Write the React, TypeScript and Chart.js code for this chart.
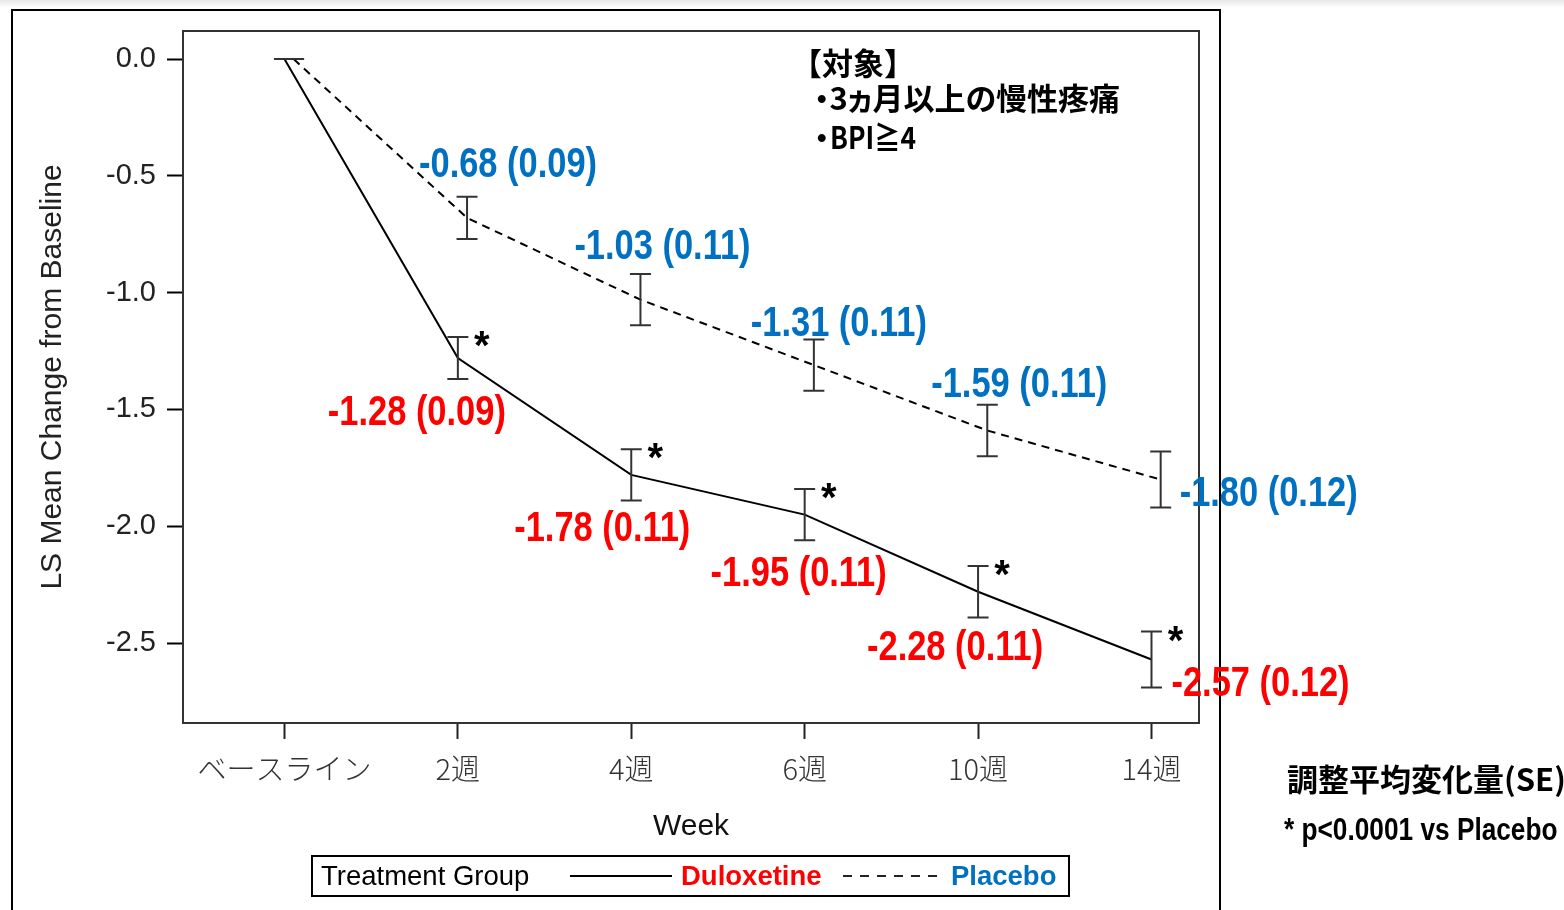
import React, { useEffect, useRef } from "react";
import { Chart, registerables } from "chart.js";

Chart.register(...registerables);

// ---------- data ----------
const weekLabels = ["ベースライン", "2週", "4週", "6週", "10週", "14週"];
const duloxetineMean = [0, -1.28, -1.78, -1.95, -2.28, -2.57];
const duloxetineSE = [0, 0.09, 0.11, 0.11, 0.11, 0.12];
const placeboMean = [0, -0.68, -1.03, -1.31, -1.59, -1.8];
const placeboSE = [0, 0.09, 0.11, 0.11, 0.11, 0.12];
const significant = [false, true, true, true, true, true];
const yTickValues = [0, -0.5, -1.0, -1.5, -2.0, -2.5];

// ---------- layout / style ----------
const W = 1564;
const H = 910;
const PLACEBO_SHIFT = 0.053; // small horizontal offset of placebo marks (category units)
const RED = "#ff0000";
const BLUE = "#0070c0";
const CONDENSE = 0.82;
const SANS = '"Liberation Sans", Arial, sans-serif';
const CJK = '"Noto Sans CJK JP", "Noto Sans CJK SC", sans-serif';
const CJK_LIGHT = '"Noto Sans CJK JP Light", "Noto Sans CJK JP", sans-serif';
// label centre offsets (px) relative to each mean point
const placeboLabelOffsets: ([number, number] | null)[] = [null, [41, -52], [22, -52], [25, -41], [32, -45], [108, 15]];
const duloxetineLabelOffsets: ([number, number] | null)[] = [null, [-41, 55], [-29, 55], [-6, 60], [-23, 57], [109, 25]];

const fmt = (m: number, se: number) => `${m.toFixed(2)} (${se.toFixed(2)})`;

function fillCondensed(ctx: CanvasRenderingContext2D, text: string, x: number, y: number) {
  ctx.save();
  ctx.translate(x, y);
  ctx.scale(CONDENSE, 1);
  ctx.fillText(text, 0, 0);
  ctx.restore();
}

const overlayPlugin = {
  id: "overlay",
  beforeDraw(chart: any) {
    const ctx: CanvasRenderingContext2D = chart.ctx;
    ctx.save();
    const g = ctx.createLinearGradient(0, 0, 0, 8);
    g.addColorStop(0, "rgba(0,0,0,0.09)");
    g.addColorStop(1, "rgba(0,0,0,0)");
    ctx.fillStyle = g;
    ctx.fillRect(0, 0, W, 8);
    // outer frame
    ctx.strokeStyle = "#000";
    ctx.lineWidth = 2;
    ctx.beginPath();
    ctx.moveTo(12, H + 10);
    ctx.lineTo(12, 10);
    ctx.lineTo(1220, 10);
    ctx.lineTo(1220, H + 10);
    ctx.stroke();
    ctx.restore();
  },
  afterDatasetsDraw(chart: any) {
    const ctx: CanvasRenderingContext2D = chart.ctx;
    const xs = chart.scales.x;
    const ys = chart.scales.y;
    const area = chart.chartArea;
    ctx.save();
    // plot frame (top/right)
    ctx.strokeStyle = "#333";
    ctx.lineWidth = 2;
    ctx.strokeRect(area.left, area.top, area.right - area.left, area.bottom - area.top);

    const bars = (means: number[], ses: number[], shift: number) => {
      ctx.strokeStyle = "#333";
      ctx.lineWidth = 2;
      ctx.setLineDash([]);
      ctx.beginPath();
      means.forEach((m, i) => {
        const px = xs.getPixelForValue(i + shift);
        const t = ys.getPixelForValue(m + ses[i]);
        const b = ys.getPixelForValue(m - ses[i]);
        ctx.moveTo(px, t);
        ctx.lineTo(px, b);
        ctx.moveTo(px - 10.5, t);
        ctx.lineTo(px + 10.5, t);
        ctx.moveTo(px - 10.5, b);
        ctx.lineTo(px + 10.5, b);
      });
      ctx.stroke();
    };
    bars(duloxetineMean, duloxetineSE, 0);
    bars(placeboMean, placeboSE, PLACEBO_SHIFT);

    // stars
    ctx.fillStyle = "#000";
    ctx.font = `bold 40px ${SANS}`;
    ctx.textAlign = "center";
    ctx.textBaseline = "alphabetic";
    duloxetineMean.forEach((m, i) => {
      if (!significant[i]) return;
      const px = xs.getPixelForValue(i);
      const t = ys.getPixelForValue(m + duloxetineSE[i]);
      ctx.fillText("*", px + 24, t - 1 + 0.58 * 40);
    });

    // value labels
    ctx.font = `bold 42px ${SANS}`;
    ctx.textBaseline = "middle";
    ctx.textAlign = "center";
    const labels = (means: number[], ses: number[], shift: number, offs: any[], color: string) => {
      ctx.fillStyle = color;
      means.forEach((m, i) => {
        const o = offs[i];
        if (!o) return;
        const px = xs.getPixelForValue(i + shift);
        const py = ys.getPixelForValue(m);
        fillCondensed(ctx, fmt(m, ses[i]), px + o[0], py + o[1]);
      });
    };
    labels(placeboMean, placeboSE, PLACEBO_SHIFT, placeboLabelOffsets, BLUE);
    labels(duloxetineMean, duloxetineSE, 0, duloxetineLabelOffsets, RED);
    ctx.restore();
  },
  afterDraw(chart: any) {
    const ctx: CanvasRenderingContext2D = chart.ctx;
    ctx.save();
    // legend box
    ctx.strokeStyle = "#000";
    ctx.lineWidth = 2;
    ctx.strokeRect(312, 856, 757, 40);
    ctx.textBaseline = "middle";
    ctx.textAlign = "left";
    ctx.fillStyle = "#000";
    ctx.font = `27.5px ${SANS}`;
    ctx.fillText("Treatment Group", 321, 877);
    ctx.beginPath();
    ctx.moveTo(570, 876);
    ctx.lineTo(672, 876);
    ctx.stroke();
    ctx.font = `bold 27.5px ${SANS}`;
    ctx.fillStyle = RED;
    ctx.fillText("Duloxetine", 681, 877);
    ctx.setLineDash([9, 8]);
    ctx.strokeStyle = "#222";
    ctx.beginPath();
    ctx.moveTo(843, 876);
    ctx.lineTo(938, 876);
    ctx.stroke();
    ctx.setLineDash([]);
    ctx.fillStyle = BLUE;
    ctx.fillText("Placebo", 951, 877);
    ctx.restore();
  },
};

export default function App() {
  const ref = useRef<HTMLCanvasElement | null>(null);

  useEffect(() => {
    if (!ref.current) return;
    const chart = new Chart(ref.current, {
      type: "line",
      data: {
        datasets: [
          {
            label: "Duloxetine",
            data: duloxetineMean.map((v, i) => ({ x: i, y: v })),
            borderColor: "#000",
            borderWidth: 2,
            pointRadius: 0,
            fill: false,
            tension: 0,
          },
          {
            label: "Placebo",
            data: placeboMean.map((v, i) => ({ x: i + PLACEBO_SHIFT, y: v })),
            borderColor: "#000",
            borderWidth: 2,
            borderDash: [8, 6],
            pointRadius: 0,
            fill: false,
            tension: 0,
          },
        ],
      },
      options: {
        animation: false,
        responsive: false,
        devicePixelRatio: 1,
        layout: { padding: { left: 0, top: 31, right: W - 1199, bottom: 65 } },
        plugins: { legend: { display: false }, tooltip: { enabled: false }, title: { display: false } },
        scales: {
          x: {
            type: "linear",
            position: "bottom",
            min: -0.585,
            max: 5.274,
            afterFit: (s: any) => {
              s.height = H - 65 - 723;
            },
            afterBuildTicks: (s: any) => {
              s.ticks = weekLabels.map((_, i) => ({ value: i }));
            },
            ticks: {
              autoSkip: false,
              maxRotation: 0,
              padding: 13,
              color: "#333",
              font: { family: CJK_LIGHT, size: 29, weight: "300" as any },
              callback: (v: any) => weekLabels[Math.round(Number(v))] ?? "",
            },
            grid: { display: true, drawOnChartArea: false, drawTicks: true, tickLength: 16, tickWidth: 2, tickColor: "#222" },
            border: { display: true, color: "#000", width: 2 },
            title: {
              display: true,
              text: "Week",
              color: "#111",
              font: { family: SANS, size: 30 },
              padding: { top: 0, bottom: 0 },
            },
          },
          y: {
            type: "linear",
            min: -2.842,
            max: 0.12,
            afterFit: (s: any) => {
              s.width = 183;
            },
            afterBuildTicks: (s: any) => {
              s.ticks = yTickValues.map((v) => ({ value: v }));
            },
            ticks: {
              padding: 11,
              color: "#222",
              font: { family: SANS, size: 29 },
              callback: (v: any) => Number(v).toFixed(1),
            },
            grid: { display: true, drawOnChartArea: false, drawTicks: true, tickLength: 16, tickWidth: 2, tickColor: "#000" },
            border: { display: true, color: "#000", width: 2 },
            title: {
              display: true,
              text: "LS Mean Change from Baseline",
              color: "#222",
              font: { family: SANS, size: 30 },
              padding: { top: 35, bottom: 0 },
            },
          },
        },
      },
      plugins: [overlayPlugin],
    });
    return () => chart.destroy();
  }, []);

  const cjkBold = (size: number, palt: boolean): React.CSSProperties => ({
    position: "absolute",
    fontFamily: CJK,
    fontWeight: 700,
    fontSize: size,
    lineHeight: "40px",
    height: 40,
    whiteSpace: "nowrap",
    color: "#000",
    fontFeatureSettings: palt ? '"palt"' : "normal",
  });

  return (
    <div style={{ position: "absolute", left: 0, top: 0, width: W, height: H, overflow: "hidden", background: "#fff" }}>
      <canvas ref={ref} width={W} height={H} style={{ display: "block", width: W, height: H }} />
      <div style={{ ...cjkBold(31, false), left: 791, top: 63.5 - 22 }}>【対象】</div>
      <div style={{ ...cjkBold(31, true), left: 814, top: 99 - 22 }}>・3ヵ月以上の慢性疼痛</div>
      <div style={{ ...cjkBold(31, true), left: 814, top: 137.5 - 22 }}>
        ・<span style={{ display: "inline-block", transform: "scaleX(0.85)", transformOrigin: "left center" }}>BPI≧4</span>
      </div>
      <div style={{ ...cjkBold(31, false), left: 1287, top: 780 - 22 }}>調整平均変化量(SE)</div>
      <div
        style={{
          position: "absolute",
          left: 1284,
          top: 829 - 20,
          fontFamily: SANS,
          fontWeight: 700,
          fontSize: 32,
          lineHeight: "40px",
          height: 40,
          whiteSpace: "nowrap",
          color: "#000",
          transform: `scaleX(${CONDENSE})`,
          transformOrigin: "left center",
        }}
      >
        * p&lt;0.0001 vs Placebo
      </div>
    </div>
  );
}
